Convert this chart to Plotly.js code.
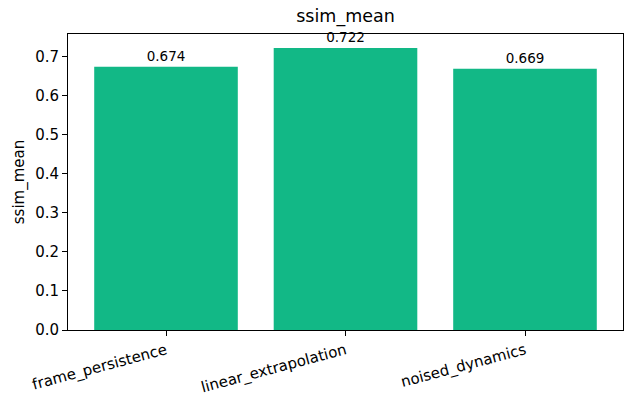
<!DOCTYPE html>
<html>
<head>
<meta charset="utf-8">
<script src="https://cdn.plot.ly/plotly-3.0.1.min.js"></script>
<style>
  html, body { margin: 0; padding: 0; background: white; }
  #chart { width: 633px; height: 406px; }
</style>
</head>
<body>
<div id="chart"></div>
<script>
// ssim_mean per method
const methods = ['frame_persistence', 'linear_extrapolation', 'noised_dynamics'];
const ssimMean = [0.674, 0.722, 0.669];
const yTicks = [0.0, 0.1, 0.2, 0.3, 0.4, 0.5, 0.6, 0.7];

const barColor = '#12B886';

const data = [{
    type: 'bar',
    x: methods.map((_, i) => i),
    y: ssimMean,
    width: 0.8,
    marker: {color: barColor, line: {width: 0}},
    text: ssimMean.map(v => v.toFixed(3)),
    textposition: 'outside',
    textfont: {family: 'DejaVu Sans', size: 13.5, color: 'black'},
    cliponaxis: false,
    hoverinfo: 'x+y'
}];

const layout = {
    width: 633,
    height: 406,
    title: {
        text: 'ssim_mean',
        font: {family: 'DejaVu Sans', size: 17.5, color: 'black'},
        x: 0.5,
        xref: 'paper',
        y: 1,
        yref: 'container',
        yanchor: 'top',
        pad: {t: 10}
    },
    margin: {l: 68, r: 10, t: 34, b: 76},
    plot_bgcolor: 'white',
    paper_bgcolor: 'white',
    font: {family: 'DejaVu Sans', size: 15, color: 'black'},
    showlegend: false,
    xaxis: {
        range: [-0.546, 2.546],
        tickmode: 'array',
        tickvals: methods.map((_, i) => i),
        ticktext: methods,
        tickangle: -15,
        ticks: 'outside',
        ticklen: 5,
        tickwidth: 1,
        tickcolor: 'black',
        showgrid: false,
        zeroline: false,
        showline: true,
        linecolor: 'black',
        linewidth: 1,
        mirror: true,
        tickfont: {size: 15}
    },
    yaxis: {
        range: [0, 0.758],
        tickmode: 'array',
        tickvals: yTicks,
        ticktext: yTicks.map(v => v.toFixed(1)),
        ticks: 'outside',
        ticklen: 5,
        tickwidth: 1,
        tickcolor: 'black',
        showgrid: false,
        zeroline: false,
        showline: true,
        linecolor: 'black',
        linewidth: 1,
        mirror: true,
        tickfont: {size: 15},
        title: {text: 'ssim_mean', font: {size: 15}, standoff: 6}
    }
};

Plotly.newPlot('chart', data, layout, {displayModeBar: false, staticPlot: true});
</script>
</body>
</html>
